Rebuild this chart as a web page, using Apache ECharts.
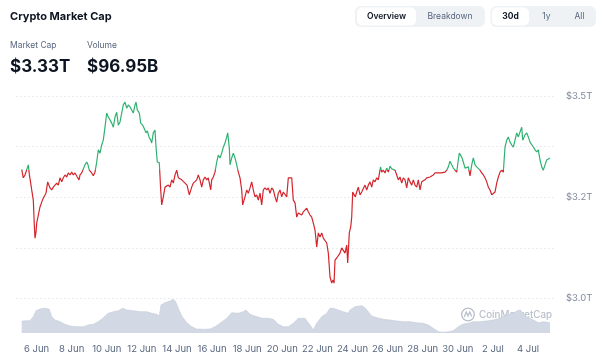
<!DOCTYPE html>
<html>
<head>
<meta charset="utf-8">
<script src="https://cdn.jsdelivr.net/npm/echarts@6/dist/echarts.min.js"></script>
<style>
html,body{margin:0;padding:0;background:#fff;}
#chart{width:600px;height:359px;}
</style>
</head>
<body>
<div id="chart"></div>
<script>
// x values: days since 5 Jun 00:00
var tickDays = [1,3,5,7,9,11,13,15,17,19,21,23,25,27,29];
var tickLabels = ['6 Jun','8 Jun','10 Jun','12 Jun','14 Jun','16 Jun','18 Jun','20 Jun','22 Jun','24 Jun','26 Jun','28 Jun','30 Jun','2 Jul','4 Jul'];
var yTickValues = [3.0, 3.125, 3.25, 3.375, 3.5];
var yTickLabels = ['$3.0T', '', '$3.2T', '', '$3.5T'];
var startValue = 3.318;

var priceDays = [0.154,0.245,0.342,0.439,0.530,0.587,0.667,0.724,0.815,0.872,0.912,0.969,1.009,1.100,1.197,1.293,1.385,1.538,1.635,1.766,1.863,1.954,2.051,2.148,2.239,2.336,2.433,2.524,2.621,2.718,2.809,2.906,3.003,3.094,3.191,3.322,3.419,3.476,3.573,3.664,3.761,3.858,3.932,4.006,4.142,4.234,4.330,4.427,4.519,4.615,4.712,4.803,4.900,4.997,5.088,5.185,5.282,5.373,5.470,5.567,5.658,5.755,5.852,5.943,6.040,6.137,6.228,6.325,6.422,6.513,6.610,6.667,6.741,6.855,6.934,7.048,7.123,7.236,7.311,7.407,7.504,7.561,7.652,7.749,7.806,7.880,7.994,8.074,8.131,8.222,8.319,8.416,8.507,8.604,8.701,8.792,8.889,8.986,9.077,9.174,9.271,9.362,9.459,9.573,9.704,9.840,9.932,10.028,10.125,10.217,10.313,10.410,10.501,10.598,10.695,10.786,10.923,10.980,11.071,11.168,11.265,11.356,11.453,11.550,11.641,11.738,11.835,11.892,11.983,12.023,12.120,12.211,12.308,12.405,12.496,12.593,12.689,12.746,12.877,12.974,13.066,13.162,13.259,13.350,13.447,13.544,13.635,13.732,13.829,13.920,14.017,14.114,14.205,14.302,14.399,14.490,14.587,14.684,14.775,14.872,14.969,15.060,15.157,15.254,15.345,15.442,15.539,15.630,15.727,15.823,15.915,16.011,16.108,16.199,16.296,16.393,16.484,16.581,16.678,16.769,16.866,16.963,17.054,17.151,17.248,17.339,17.436,17.533,17.624,17.721,17.818,17.892,17.949,18.006,18.103,18.194,18.291,18.387,18.478,18.575,18.672,18.729,18.820,18.900,18.957,19.014,19.088,19.162,19.242,19.333,19.430,19.527,19.618,19.715,19.812,19.903,20.000,20.097,20.188,20.285,20.382,20.473,20.541,20.598,20.667,20.758,20.855,20.952,21.043,21.140,21.237,21.328,21.425,21.521,21.613,21.709,21.806,21.897,21.994,22.091,22.182,22.279,22.376,22.467,22.564,22.661,22.752,22.849,22.946,23.037,23.134,23.231,23.322,23.419,23.516,23.607,23.704,23.801,23.892,23.989,24.085,24.177,24.274,24.370,24.462,24.558,24.655,24.746,24.843,24.940,25.031,25.088,25.225,25.316,25.413,25.510,25.601,25.698,25.795,25.886,25.983,26.080,26.171,26.268,26.365,26.456,26.553,26.650,26.741,26.838,26.935,27.026,27.123,27.219,27.311,27.407,27.504,27.595,27.692,27.789,27.880,27.977,28.074,28.165,28.262,28.359,28.450,28.547,28.644,28.701,28.832,28.929,29.020,29.117,29.214,29.305,29.402,29.499,29.590,29.687,29.784,29.875,29.972,30.068,30.160,30.256];

var marketCapT = [3.319,3.298,3.305,3.303,3.330,3.307,3.303,3.268,3.243,3.181,3.149,3.164,3.186,3.206,3.226,3.238,3.248,3.260,3.288,3.273,3.268,3.275,3.273,3.285,3.280,3.298,3.288,3.298,3.305,3.300,3.310,3.305,3.312,3.305,3.310,3.300,3.293,3.305,3.310,3.320,3.330,3.337,3.330,3.317,3.310,3.303,3.312,3.337,3.367,3.359,3.379,3.391,3.423,3.458,3.448,3.441,3.433,3.423,3.448,3.460,3.428,3.436,3.458,3.478,3.485,3.470,3.478,3.473,3.470,3.458,3.478,3.485,3.465,3.458,3.433,3.428,3.421,3.409,3.414,3.399,3.391,3.384,3.409,3.416,3.374,3.337,3.335,3.268,3.231,3.251,3.275,3.273,3.280,3.275,3.293,3.285,3.305,3.317,3.298,3.298,3.293,3.293,3.285,3.280,3.256,3.275,3.285,3.288,3.293,3.305,3.293,3.275,3.293,3.300,3.293,3.298,3.268,3.293,3.300,3.312,3.337,3.354,3.347,3.359,3.374,3.384,3.399,3.409,3.372,3.330,3.347,3.359,3.347,3.330,3.312,3.298,3.268,3.231,3.251,3.268,3.260,3.273,3.288,3.268,3.251,3.256,3.243,3.260,3.231,3.268,3.273,3.268,3.273,3.260,3.273,3.268,3.251,3.238,3.260,3.268,3.251,3.263,3.260,3.251,3.298,3.300,3.298,3.243,3.236,3.201,3.211,3.214,3.206,3.214,3.211,3.223,3.214,3.206,3.201,3.186,3.169,3.127,3.162,3.152,3.162,3.149,3.152,3.137,3.112,3.053,3.038,3.046,3.038,3.095,3.100,3.102,3.112,3.125,3.127,3.112,3.132,3.088,3.162,3.177,3.201,3.263,3.260,3.251,3.263,3.275,3.256,3.263,3.260,3.280,3.268,3.280,3.288,3.275,3.293,3.288,3.298,3.293,3.310,3.325,3.312,3.317,3.310,3.322,3.312,3.327,3.320,3.322,3.317,3.305,3.293,3.300,3.285,3.298,3.293,3.273,3.298,3.288,3.280,3.293,3.280,3.275,3.293,3.268,3.288,3.288,3.293,3.298,3.300,3.300,3.303,3.305,3.310,3.312,3.310,3.312,3.310,3.312,3.312,3.317,3.325,3.339,3.330,3.322,3.317,3.312,3.342,3.359,3.349,3.337,3.322,3.320,3.325,3.303,3.330,3.347,3.330,3.325,3.325,3.317,3.310,3.305,3.298,3.288,3.275,3.268,3.256,3.253,3.263,3.285,3.300,3.312,3.317,3.312,3.374,3.391,3.399,3.386,3.379,3.374,3.391,3.409,3.399,3.411,3.423,3.391,3.404,3.409,3.399,3.386,3.384,3.374,3.367,3.362,3.367,3.342,3.325,3.317,3.330,3.342,3.339,3.347];

var volumeDays = [0.154,0.627,0.815,0.969,1.197,1.481,1.726,1.863,2.051,2.336,2.621,2.906,3.288,3.664,3.949,4.234,4.519,4.803,5.088,5.373,5.658,5.909,6.137,6.513,6.895,7.276,7.561,7.846,7.994,8.091,8.319,8.604,8.792,8.929,9.077,9.271,9.556,9.840,10.125,10.501,10.883,11.168,11.453,11.835,12.120,12.496,12.781,12.934,13.162,13.447,13.829,14.205,14.490,14.775,15.060,15.345,15.630,15.915,16.011,16.296,16.581,16.769,16.963,17.248,17.533,17.721,17.909,18.194,18.479,18.764,18.860,19.145,19.527,19.715,19.903,20.097,20.382,20.758,21.140,21.521,21.897,22.279,22.661,23.037,23.322,23.607,23.892,24.177,24.462,24.746,25.031,25.316,25.601,25.886,26.268,26.650,27.026,27.407,27.789,28.165,28.450,28.644,28.929,29.305,29.590,29.875,30.256];
var volumeB = [120,123,163,223,240,247,237,163,130,113,87,70,63,63,80,87,113,153,197,213,223,247,230,223,213,213,197,187,170,280,303,320,337,313,247,170,103,63,40,37,40,63,97,147,203,197,213,230,187,170,147,147,137,87,63,63,97,147,157,147,80,30,97,163,197,247,247,230,213,197,230,263,273,253,213,170,153,137,130,120,113,113,103,97,80,47,13,7,13,23,63,90,97,113,113,120,130,147,180,197,230,213,163,130,103,113,103];

if (priceDays.length !== marketCapT.length) throw new Error('price len ' + priceDays.length + ' vs ' + marketCapT.length);
if (volumeDays.length !== volumeB.length) throw new Error('vol len ' + volumeDays.length + ' vs ' + volumeB.length);

var priceData = priceDays.map(function (d, i) { return [d, marketCapT[i]]; });
var volumeData = volumeDays.map(function (d, i) { return [d, volumeB[i]]; });

var FONT = 'Inter, "Noto Sans", sans-serif';
var GREEN = '#2fb170', RED = '#d3252c';

var chart = echarts.init(document.getElementById('chart'), null, {renderer: 'canvas'});

function txt(x, y, s, size, weight, fill, align) {
  return {type: 'text', x: x, y: y, silent: true,
    style: {text: s, font: (weight || 400) + ' ' + size + 'px ' + FONT, fill: fill,
      textAlign: align || 'left', textVerticalAlign: 'middle'}};
}

var option = {
  animation: false,
  backgroundColor: '#ffffff',
  grid: [
    {left: 16, width: 539, top: 96, height: 202.5},
    {left: 16, width: 539, top: 290, height: 43}
  ],
  xAxis: [
    {type: 'value', gridIndex: 0, min: -0.171, max: 30.54, show: false},
    {type: 'value', gridIndex: 1, min: -0.171, max: 30.54,
      axisLine: {show: false}, axisTick: {show: false}, splitLine: {show: false},
      axisLabel: {customValues: tickDays, margin: 11, color: '#58667e', fontSize: 9.5, fontFamily: FONT,
        formatter: function (v) { var i = tickDays.indexOf(Math.round(v)); return i >= 0 ? tickLabels[i] : ''; }}}
  ],
  yAxis: [
    {type: 'value', gridIndex: 0, position: 'right', min: 3.0, max: 3.5, interval: 0.125,
      axisLine: {show: false}, axisTick: {show: false},
      splitLine: {show: true, lineStyle: {color: '#e3e6ec', type: [1.5, 2.5], width: 1}},
      axisLabel: {margin: 11, color: '#808a9d', fontSize: 9.5, fontFamily: FONT,
        formatter: function (v) { var i = Math.round((v - yTickValues[0]) / 0.125); return yTickLabels[i] || ''; }}},
    {type: 'value', gridIndex: 1, min: 0, max: 430, show: false, splitLine: {show: false}}
  ],
  visualMap: {
    type: 'piecewise', show: false, seriesIndex: 0, dimension: 1,
    pieces: [{gt: startValue, lte: 10, color: GREEN}, {gte: 0, lte: startValue, color: RED}]
  },
  series: [
    {type: 'line', xAxisIndex: 0, yAxisIndex: 0, data: priceData, showSymbol: false, z: 5,
      lineStyle: {width: 1.2}},
    {type: 'line', xAxisIndex: 1, yAxisIndex: 1, data: volumeData, showSymbol: false, z: 2,
      lineStyle: {width: 0.6, color: '#c4cbd9'}, itemStyle: {color: '#c4cbd9'},
      areaStyle: {color: '#d2d8e4', opacity: 1}}
  ],
  graphic: [
    txt(10, 17, 'Crypto Market Cap', 11, 700, '#0d1421'),
    txt(10, 45, 'Market Cap', 8.5, 400, '#58667e'),
    txt(87, 45, 'Volume', 8.5, 400, '#58667e'),
    txt(10, 67, '$3.33T', 17, 700, '#0d1421'),
    txt(87, 67, '$96.95B', 17, 700, '#0d1421'),
    {type: 'rect', shape: {x: 355, y: 6, width: 130, height: 21, r: 6}, style: {fill: '#eff2f5'}, silent: true},
    {type: 'rect', shape: {x: 357, y: 7.5, width: 59, height: 18, r: 5}, style: {fill: '#ffffff'}, silent: true},
    txt(386.5, 16.5, 'Overview', 8.5, 600, '#0d1421', 'center'),
    txt(450, 16.5, 'Breakdown', 8.5, 400, '#58667e', 'center'),
    {type: 'rect', shape: {x: 490.5, y: 6, width: 105.5, height: 21, r: 6}, style: {fill: '#eff2f5'}, silent: true},
    {type: 'rect', shape: {x: 492, y: 7.5, width: 37, height: 18, r: 5}, style: {fill: '#ffffff'}, silent: true},
    txt(510.5, 16.5, '30d', 8.5, 700, '#0d1421', 'center'),
    txt(546.5, 16.5, '1y', 8.5, 400, '#58667e', 'center'),
    txt(579.5, 16.5, 'All', 8.5, 400, '#58667e', 'center'),
    {type: 'circle', shape: {cx: 468, cy: 314.5, r: 6.3}, style: {fill: 'none', stroke: '#b8bfcb', lineWidth: 1.3}, silent: true, z: 10},
    {type: 'polyline', shape: {points: [[464.2, 317], [466.3, 312], [468, 316], [469.8, 312], [471.8, 316.5]]},
      style: {fill: 'none', stroke: '#b8bfcb', lineWidth: 1.2}, silent: true, z: 10},
    txt(479, 315, 'CoinMarketCap', 9.8, 500, '#b8bfcb')
  ]
};
chart.setOption(option);
</script>
</body>
</html>
